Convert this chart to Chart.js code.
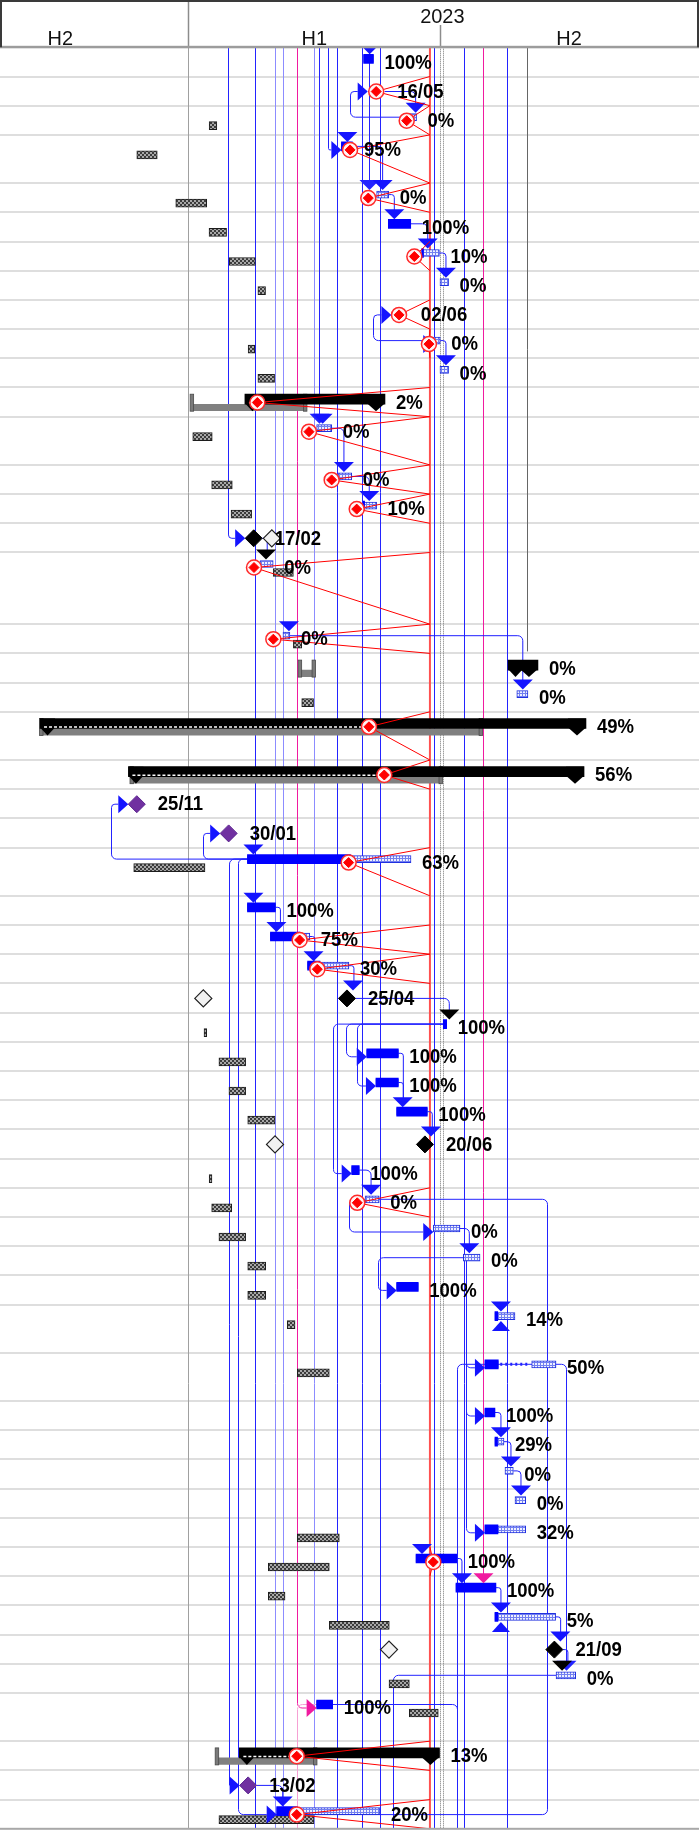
<!DOCTYPE html>
<html lang="en">
<head>
  <meta charset="UTF-8" />
  <title>Gantt 2023</title>
  <script src="https://cdn.jsdelivr.net/npm/chart.js"></script>
  <style>
    html, body { margin: 0; padding: 0; background: #fff; }
    #wrap { width: 699px; height: 1832px; }
  </style>
</head>
<body>
<div id="wrap"><canvas id="gantt" width="699" height="1832"></canvas></div>

<script>
  // ---- timeline data: days counted from 1 Jan 2023, rows counted from 1 ----
  const yearTicks = ['2023'];
  const yearMid = [182.5];
  const halfTicks = ['H2', 'H1', 'H2'];
  const halfMid = [-92, 90.5, 273.5];
  const halfEdges = [0, 181];
  const statusDay = 173.6;

  // text lines in each table row (taller rows hold wrapped names)
  const rowLines = [1,1,1,2,1,1,1,1,1,1, 1,1,2,1,1,1,3,1,1,1, 2,1,1,1,2,1,1,1,1,1,
                    1,1,1,1,1,1,1,1,1,2, 2,1,1,1,1,1,1,1,1,1, 1,2,1,1,1];
  // t = task, m = milestone, s = summary
  const rowKind = ['t','m','t','t','t','t','t','t','m','t', 't','s','t','t','t','m','t','t','s','t',
                   's','s','m','m','t','t','t','t','m','t', 't','t','t','m','t','t','t','t','t','t',
                   't','t','t','t','t','t','t','t','t','m', 't','t','s','m','t'];
  const taskStart = [126,135,159,110,135.3,143.7,167.7,180.8,152,176,
                     180.8,40.7,92.2,107.5,125.7,47,51.5,68,229.7,236,
                     -106.5,-43,-37,29,42.5,42.5,59,85.7,114,183.2,
                     128.2,134.8,149.7,170,117.4,127,176,197.6,149.7,220.3,
                     213.1,213.1,220.3,227.5,234.7,213.1,163.6,192.3,220.3,263,
                     264.2,92.2,36.7,43,63.5];
  const taskFinish = [133,null,164,118.3,144,159.8,180.4,187,null,181,
                      187,141.3,103,117.4,135.3,null,61,73,251.2,244,
                      285.7,284.3,null,null,160,62.6,87.3,115.4,null,185.6,
                      150.9,150.9,171.7,null,122.8,137.2,195.2,209.6,165.2,234.7,
                      264.2,220.3,226.8,233.5,242.4,242.4,192.8,221,263.9,null,
                      278.3,103.7,180.4,null,137.7];
  const taskPct = [100,null,0,95,0,100,10,0,null,0,
                   0,2,0,0,10,null,0,0,0,0,
                   49,56,null,null,63,100,75,30,null,100,
                   100,100,100,null,100,0,0,0,100,14,
                   50,100,29,0,0,32,100,100,5,null,
                   0,100,13,null,20];
  const baseStart = [null,null,15,-37,-9,14.9,29.4,50,null,43,
                     50,2.4,3.2,16.8,30.7,60,61,75.5,80,81.5,
                     -105.8,-40.8,null,null,-39.2,null,null,null,10.8,11.3,
                     22,29.2,42.7,62.3,15,16.8,22,42.7,42.7,71.1,
                     78.3,null,null,null,null,78.3,57.5,57.5,101.3,144.2,
                     144.2,158.8,20.4,null,22];
  const baseFinish = [null,null,20.5,-22.3,13.2,27.5,48.2,55.5,null,47.8,
                      62,83.8,17.2,31.6,45.5,null,75.5,81.5,90,90,
                      210,181.2,null,null,12,null,null,null,null,13.2,
                      41.2,41.2,62.3,null,17,31.2,41.2,55.6,55.6,76.7,
                      101.3,null,null,null,null,108.5,101.3,69.5,144.4,null,
                      158.8,179.6,91,null,90.3];
  const progressDay = [null,135,156.9,116.2,129.3,null,162.4,null,151.4,172.9,
                       null,49.6,86.7,103,121,null,47.2,61.1,null,null,
                       129.8,140.8,null,null,115.2,null,80,92.7,null,null,
                       null,null,null,null,null,121.4,null,null,null,null,
                       null,null,null,null,null,null,176,null,null,null,
                       null,null,77.9,null,77.9];
  // incoming link heads: d down, k black down, r right, p pink right, u up
  const arrowIn = ['d','r','d','dr','d','d','d','d','r','r',
                   'd','','d','d','d','r','k','d','','d',
                   '','','r','r','d','d','d','d','d','k',
                   'r','r','d','d','r','d','r','d','r','du',
                   'r','r','d','d','d','r','d','d','du','d',
                   'k','p','','r','dr'];
  const purpleMilestones = [23, 24, 54];
  const splitRow = 41, splitFrom = 222.7, splitTo = 246.7;

  // finish-to-start links between neighbouring rows
  const links = [[2,3],[4,5],[5,6],[6,7],[7,8],[10,11],[13,14],[14,15],[16,17],[18,20],
                 [26,27],[27,28],[28,29],[29,30],[31,33],[32,33],[33,34],[35,36],[37,38],
                 [42,43],[43,44],[44,45],[47,48],[48,49],[49,50],[50,51],[54,55]];
  // long link lines: day, from row (0 = top), to row (null = bottom), tone
  const connDay  = [48.1,62.3,68.2,90.1,106.8,124.6,138,176.2,198.3,229.3,
                    212,28.3,94.1,130,243,78.4,78.4,100.5,116.2,133,
                    -55.4,10.6,29.5,35.9,113,121,104.2,115.7,136.5,199.5,
                    199.5,199.5,257.5,271,147.3,193.3,193.3];
  const connFrom = [0,0,0,0,0,0,0,0,0,0,
                    0,0,0,0,0,0,52,0,3,10,
                    25,25,25,25,30,30,30,36,38,38,
                    38,38,36,41,51,52,41];
  const connTo   = [null,null,null,null,null,null,null,null,null,null,
                    48,16,13,5,19,52,null,4,2,9,
                    23,24,54,55,31,32,35,37,39,41,
                    42,46,55,51,null,null,null];
  const connTone = ['b','l','l','l','b','b','b','b','b','b',
                    'm','b','b','b','g','m','n','b','b','b',
                    'b','b','b','b','b','b','b','b','b','b',
                    'b','b','b','b','b','b','b'];

  // ---- layout helpers ----
  const ROW_H = {1: 29.2, 2: 48.2, 3: 71.7};
  const TONE = {b: '#2323ff', l: '#8c8cff', m: '#f01aa0', n: '#f6a0d4', g: '#666666'};
  const rowTop = [];
  let total = 0;
  rowLines.forEach(n => { rowTop.push(total); total += ROW_H[n]; });
  const rowBottom = i => rowTop[i] + ROW_H[rowLines[i]];
  const itemY = i => rowTop[i] + (rowKind[i] === 'm' ? 15 : rowKind[i] === 's' ? 11.7 : 11.5);

  const canvas = document.getElementById('gantt');
  const ctx0 = canvas.getContext('2d');
  function makePattern(size, paint) {
    const c = document.createElement('canvas');
    c.width = c.height = size;
    paint(c.getContext('2d'));
    return ctx0.createPattern(c, 'repeat');
  }
  const grayHatch = makePattern(4, g => {
    g.fillStyle = '#a8a8a8'; g.fillRect(0, 0, 4, 4);
    g.fillStyle = '#3c3c3c'; g.fillRect(0, 0, 2, 2); g.fillRect(2, 2, 2, 2);
  });
  const blueHatch = makePattern(3, g => {
    g.fillStyle = '#7380f0'; g.fillRect(0, 0, 3, 3);
    g.fillStyle = '#eef0ff'; g.fillRect(1, 1, 2, 2);
  });

  const rows = rowKind.map((_, i) => i);
  const taskRows = rows.filter(i => rowKind[i] === 't');
  const sumRows = rows.filter(i => rowKind[i] === 's');
  const msRows = rows.filter(i => rowKind[i] === 'm');

  const remaining = [];
  const done = [];
  taskRows.forEach(i => {
    const y = rowTop[i] + 11.5;
    if (i === splitRow - 1) {
      remaining.push({x: [taskStart[i], splitFrom], y}, {x: [splitTo, taskFinish[i]], y});
    } else {
      remaining.push({x: [taskStart[i], taskFinish[i]], y});
    }
    if (taskPct[i] > 0) {
      let end = taskStart[i] + (taskFinish[i] - taskStart[i]) * taskPct[i] / 100;
      if (i === splitRow - 1) end = Math.min(end, splitFrom);
      done.push({x: [taskStart[i], end], y});
    }
  });

  const barCommon = { type: 'bar', indexAxis: 'y', stack: 'rows', borderSkipped: false };

  // ---- drawing helpers ----
  function poly(ctx, pts) {
    ctx.beginPath();
    ctx.moveTo(pts[0][0], pts[0][1]);
    pts.slice(1).forEach(p => ctx.lineTo(p[0], p[1]));
    ctx.closePath();
    ctx.fill();
  }
  function bentLine(ctx, pts, r) {
    ctx.beginPath();
    ctx.moveTo(pts[0][0], pts[0][1]);
    for (let k = 1; k < pts.length - 1; k++) {
      const a = pts[k - 1], b = pts[k], c = pts[k + 1];
      const len = Math.min(Math.hypot(b[0] - a[0], b[1] - a[1]), Math.hypot(c[0] - b[0], c[1] - b[1]));
      ctx.arcTo(b[0], b[1], c[0], c[1], Math.min(r, len / 2));
    }
    const last = pts[pts.length - 1];
    ctx.lineTo(last[0], last[1]);
    ctx.stroke();
  }
  const snap = v => Math.round(v) + 0.5;
  function fmtDay(d) {
    const dt = new Date(Date.UTC(2023, 0, 1) + d * 86400000);
    return String(dt.getUTCDate()).padStart(2, '0') + '/' + String(dt.getUTCMonth() + 1).padStart(2, '0');
  }

  const decor = {
    id: 'decor',
    beforeDatasetsDraw(chart) {
      const {ctx, chartArea: a, scales: {x, y}} = chart;
      const X = v => x.getPixelForValue(v), Y = v => y.getPixelForValue(v);
      ctx.save();
      // row grid
      ctx.fillStyle = '#dedede';
      rows.forEach(i => {
        if (i < rows.length - 1) ctx.fillRect(0, Math.round(Y(rowBottom(i))) - 1, chart.width, 2);
      });
      // half-year separators
      ctx.strokeStyle = '#a0a0a0'; ctx.lineWidth = 1;
      ctx.beginPath(); ctx.moveTo(snap(X(halfEdges[0])), a.top); ctx.lineTo(snap(X(halfEdges[0])), a.bottom); ctx.stroke();
      ctx.strokeStyle = '#777'; ctx.setLineDash([1, 1]);
      [0, 3].forEach(dx => {
        ctx.beginPath(); ctx.moveTo(snap(X(halfEdges[1])) + dx, a.top); ctx.lineTo(snap(X(halfEdges[1])) + dx, a.bottom); ctx.stroke();
      });
      ctx.setLineDash([]);
      // status date line
      ctx.strokeStyle = '#ff5050'; ctx.lineWidth = 2;
      ctx.beginPath(); ctx.moveTo(X(statusDay), a.top); ctx.lineTo(X(statusDay), a.bottom); ctx.stroke();
      // long link lines
      ctx.lineWidth = 1;
      connDay.forEach((d, k) => {
        const cx = snap(X(d));
        const f = connFrom[k], t = connTo[k];
        const pts = [];
        if (f) {
          const fy = Y(itemY(f - 1));
          pts.push([X(taskStart[f - 1]), fy], [cx, fy]);
        } else pts.push([cx, a.top]);
        if (t) {
          const ti = t - 1;
          if (/[rp]/.test(arrowIn[ti])) {
            const ty = Y(rowTop[ti] + 15);
            const tip = X(taskStart[ti]) - (rowKind[ti] === 'm' ? 8.5 : 0);
            pts.push([cx, ty], [tip - 10, ty]);
          } else {
            pts.push([cx, Y(rowTop[ti]) - 2]);
          }
        } else pts.push([cx, a.bottom]);
        ctx.strokeStyle = TONE[connTone[k]];
        bentLine(ctx, pts, 5);
      });
      // short links
      ctx.strokeStyle = '#1f1fff';
      links.forEach(([p, s]) => {
        const pi = p - 1, si = s - 1;
        const px = rowKind[pi] === 'm' ? X(taskStart[pi]) + 8.5 : X(taskFinish[pi]);
        const py = Y(itemY(pi));
        const ax = Math.max(X(taskStart[si]) + 6, px + 5);
        bentLine(ctx, [[px, py], [ax, py], [ax, Y(rowTop[si])]], 5);
      });
      ctx.restore();
    },
    afterDatasetDraw(chart, args) {
      const name = chart.data.datasets[args.index].label;
      const {ctx, scales: {x, y}} = chart;
      const X = v => x.getPixelForValue(v), Y = v => y.getPixelForValue(v);
      ctx.save();
      if (name === 'summaryBase') {
        sumRows.forEach(i => {
          const yc = Y(rowTop[i] + 11.7);
          [baseStart[i], baseFinish[i]].forEach(d => {
            ctx.fillStyle = '#7a7a7a';
            ctx.fillRect(X(d) - 1.5, yc - 5, 3.5, 17);
            ctx.strokeStyle = '#4a4a4a'; ctx.lineWidth = 0.8;
            ctx.strokeRect(X(d) - 1.5, yc - 5, 3.5, 17);
          });
        });
      }
      if (name === 'summary') {
        sumRows.forEach(i => {
          const yc = Y(rowTop[i] + 11.7), x0 = X(taskStart[i]), x1 = X(taskFinish[i]);
          ctx.fillStyle = '#000';
          poly(ctx, [[x0, yc - 5], [x0 + 15, yc - 5], [x0 + 15, yc + 4], [x0 + 7.5, yc + 12], [x0, yc + 4]]);
          poly(ctx, [[x1 - 18, yc - 5], [x1, yc - 5], [x1, yc + 4], [x1 - 9, yc + 12], [x1 - 18, yc + 4]]);
          if (progressDay[i] !== null) {
            ctx.strokeStyle = '#fff'; ctx.lineWidth = 1.5; ctx.setLineDash([3, 2]);
            ctx.beginPath(); ctx.moveTo(x0 + 4, yc + 3.5); ctx.lineTo(X(progressDay[i]), yc + 3.5); ctx.stroke();
            ctx.setLineDash([]);
          }
        });
        // split task gap
        const si = splitRow - 1, sy = Y(rowTop[si] + 11.5);
        ctx.strokeStyle = '#2323ff'; ctx.lineWidth = 3; ctx.setLineDash([2, 3]);
        ctx.beginPath(); ctx.moveTo(X(splitFrom) + 2, sy); ctx.lineTo(X(splitTo) - 2, sy); ctx.stroke();
        ctx.setLineDash([]);
      }
      ctx.restore();
    },
    beforeDatasetDraw(chart, args) {
      if (chart.data.datasets[args.index].label !== 'progressRing') return;
      const {ctx, scales: {x, y}} = chart;
      const X = v => x.getPixelForValue(v), Y = v => y.getPixelForValue(v);
      ctx.save();
      const down = (ax, top, col) => { ctx.fillStyle = col; poly(ctx, [[ax - 10, top - 3], [ax + 10, top - 3], [ax, top + 7]]); };
      // heads at the ends of long link lines
      connTo.forEach((t, k) => {
        if (!t || connTone[k] === 'g' || /[rp]/.test(arrowIn[t - 1])) return;
        down(snap(X(connDay[k])), Y(rowTop[t - 1]), TONE[connTone[k]]);
      });
      rows.forEach(i => {
        const a = arrowIn[i];
        const top = Y(rowTop[i]);
        const sx = X(taskStart[i]);
        if (a.includes('d')) down(sx + 6, top, '#1414ff');
        if (a.includes('k')) down(sx + 6, top, '#000');
        if (a.includes('r') || a.includes('p')) {
          const tip = sx - (rowKind[i] === 'm' ? 8.5 : 0);
          const cy = Y(rowTop[i] + 15);
          ctx.fillStyle = a.includes('p') ? '#f01aa0' : '#1414ff';
          poly(ctx, [[tip - 10, cy - 9], [tip - 10, cy + 9], [tip, cy]]);
        }
        if (a.includes('u')) {
          ctx.fillStyle = '#1414ff';
          poly(ctx, [[sx + 6, top + 16.5], [sx + 15, top + 26.5], [sx - 3, top + 26.5]]);
        }
      });
      // progress line
      ctx.strokeStyle = '#ff0000'; ctx.lineWidth = 1;
      const sx = X(statusDay);
      rows.forEach(i => {
        if (progressDay[i] === null) return;
        ctx.beginPath();
        ctx.moveTo(sx, Y(rowTop[i]));
        ctx.lineTo(X(progressDay[i]), Y(rowTop[i] + 15));
        ctx.lineTo(sx, Y(rowBottom(i)));
        ctx.stroke();
      });
      ctx.restore();
    },
    afterDatasetsDraw(chart) {
      const {ctx, chartArea: a, scales: {x, y}} = chart;
      const X = v => x.getPixelForValue(v), Y = v => y.getPixelForValue(v);
      ctx.save();
      // bar labels
      ctx.font = 'bold 19.5px "Liberation Sans", Arial, sans-serif';
      ctx.fillStyle = '#000';
      ctx.textBaseline = 'alphabetic';
      rows.forEach(i => {
        let text, lx;
        if (rowKind[i] === 'm') { text = fmtDay(taskStart[i]); lx = X(taskStart[i]) + 21; }
        else { text = taskPct[i] + '%'; lx = X(taskFinish[i]) + 11; }
        ctx.save();
        ctx.translate(lx, Y(rowTop[i]) + 21.2);
        ctx.scale(0.95, 1);
        ctx.fillText(text, 0, 0);
        ctx.restore();
      });
      // timescale header
      ctx.fillStyle = '#fff';
      ctx.fillRect(0, 0, chart.width, a.top - 1);
      ctx.fillStyle = '#111';
      ctx.font = '21px "Liberation Sans", Arial, sans-serif';
      ctx.textAlign = 'center';
      const stretched = (t, cx, by) => { ctx.save(); ctx.translate(cx, by); ctx.scale(0.95, 1); ctx.fillText(t, 0, 0); ctx.restore(); };
      yearTicks.forEach((t, k) => stretched(t, X(yearMid[k]), 23.3));
      halfTicks.forEach((t, k) => stretched(t, X(halfMid[k]), 44.5));
      ctx.strokeStyle = '#8c8c8c'; ctx.lineWidth = 1.5;
      ctx.beginPath(); ctx.moveTo(snap(X(halfEdges[0])), 0); ctx.lineTo(snap(X(halfEdges[0])), a.top); ctx.stroke();
      ctx.beginPath(); ctx.moveTo(snap(X(halfEdges[1])), 25); ctx.lineTo(snap(X(halfEdges[1])), a.top); ctx.stroke();
      ctx.fillStyle = '#9c9c9c';
      ctx.fillRect(0, a.top - 1.5, chart.width, 2.5);
      ctx.strokeStyle = '#3a3a3a'; ctx.lineWidth = 2;
      ctx.beginPath(); ctx.moveTo(0, 1); ctx.lineTo(chart.width, 1); ctx.stroke();
      ctx.beginPath(); ctx.moveTo(1, 0); ctx.lineTo(1, a.top); ctx.stroke();
      ctx.beginPath(); ctx.moveTo(chart.width - 1, 0); ctx.lineTo(chart.width - 1, a.top); ctx.stroke();
      // bottom border
      ctx.fillStyle = '#a8a8a8';
      ctx.fillRect(0, a.bottom - 1, chart.width, 2);
      ctx.restore();
    }
  };

  new Chart(canvas, {
    type: 'bar',
    data: {
      datasets: [
        {
          ...barCommon, label: 'baseline', order: 10,
          data: taskRows.filter(i => baseStart[i] !== null).map(i => ({x: [baseStart[i], baseFinish[i]], y: rowTop[i] + 20})),
          backgroundColor: grayHatch, borderColor: '#1c1c1c', borderWidth: 1, barThickness: 8
        },
        {
          ...barCommon, label: 'summaryBase', order: 9,
          data: sumRows.map(i => ({x: [baseStart[i], baseFinish[i]], y: rowTop[i] + 20})),
          backgroundColor: '#808080', borderWidth: 0, barThickness: 6.5
        },
        {
          ...barCommon, label: 'remaining', order: 8,
          data: remaining,
          backgroundColor: blueHatch, borderColor: '#2030e0', borderWidth: 1, barThickness: 7
        },
        {
          ...barCommon, label: 'done', order: 7,
          data: done,
          backgroundColor: '#0000ff', borderWidth: 0, barThickness: 9
        },
        {
          ...barCommon, label: 'summary', order: 6,
          data: sumRows.map(i => ({x: [taskStart[i], taskFinish[i]], y: rowTop[i] + 11.7})),
          backgroundColor: '#000', borderWidth: 0, barThickness: 10
        },
        {
          type: 'scatter', label: 'milestoneBase', order: 5,
          data: msRows.filter(i => baseStart[i] !== null).map(i => ({x: baseStart[i], y: rowTop[i] + 15})),
          pointStyle: 'rectRot', pointRadius: 8.5, pointBackgroundColor: '#f2f2f2',
          pointBorderColor: '#222', pointBorderWidth: 1.2
        },
        {
          type: 'scatter', label: 'milestone', order: 4,
          data: msRows.filter(i => progressDay[i] === null).map(i => ({x: taskStart[i], y: rowTop[i] + 15, row: i + 1})),
          pointStyle: 'rectRot', pointRadius: 8.5,
          pointBackgroundColor: c => purpleMilestones.includes(c.raw && c.raw.row) ? '#7030a0' : '#000',
          pointBorderColor: c => purpleMilestones.includes(c.raw && c.raw.row) ? '#5c2590' : '#000',
          pointBorderWidth: 1
        },
        {
          type: 'scatter', label: 'progressRing', order: 2,
          data: rows.filter(i => progressDay[i] !== null).map(i => ({x: progressDay[i], y: rowTop[i] + 15})),
          pointStyle: 'circle', pointRadius: 7.5, pointBackgroundColor: '#fff4f4',
          pointBorderColor: '#ff2a2a', pointBorderWidth: 1.5
        },
        {
          type: 'scatter', label: 'progressMark', order: 1,
          data: rows.filter(i => progressDay[i] !== null).map(i => ({x: progressDay[i], y: rowTop[i] + 15})),
          pointStyle: 'rectRot', pointRadius: 5, pointBackgroundColor: '#ff0000',
          pointBorderColor: '#ff0000', pointBorderWidth: 1
        }
      ]
    },
    options: {
      responsive: false,
      animation: false,
      devicePixelRatio: 1,
      events: [],
      layout: { autoPadding: false, padding: { top: 47.3, bottom: 1832 - 47.3 - total, left: 0, right: 0 } },
      scales: {
        x: { type: 'linear', min: -135.27, max: 366.9, stacked: false, offset: false, display: false },
        y: { type: 'linear', min: 0, max: total, reverse: true, offset: false, display: false }
      },
      plugins: { legend: { display: false }, tooltip: { enabled: false } }
    },
    plugins: [decor]
  });
</script>
</body>
</html>
